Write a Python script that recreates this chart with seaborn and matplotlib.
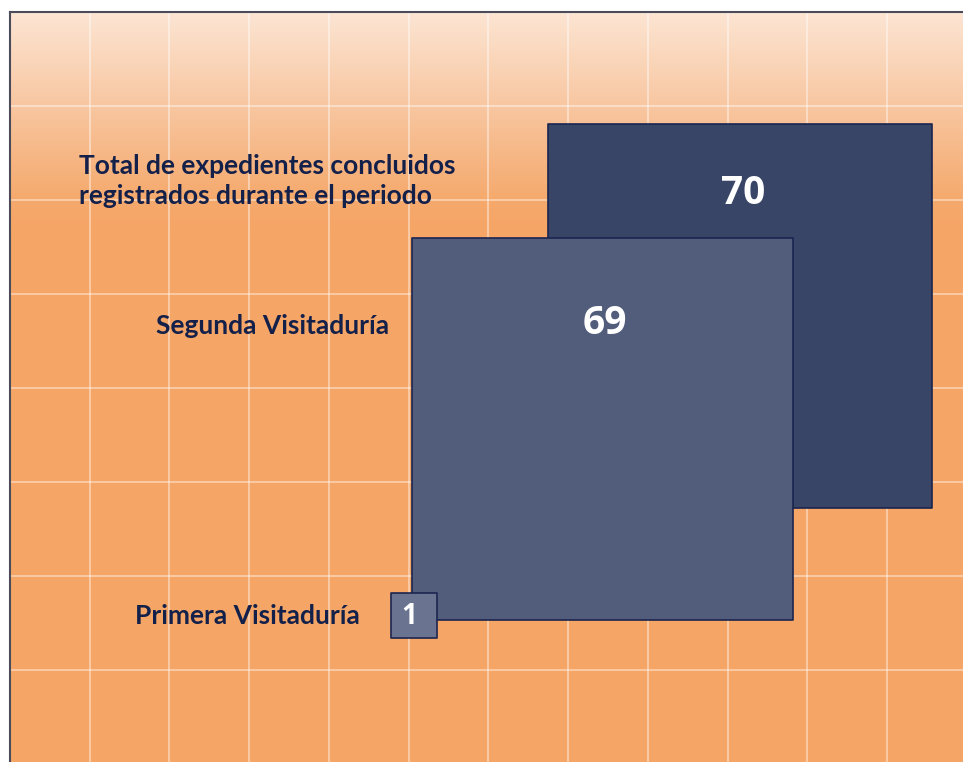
"""
Expedientes concluidos por visitaduría - cuadros proporcionales al valor
"""
import numpy as np
import pandas as pd
import matplotlib.pyplot as plt
import seaborn as sns
from matplotlib.colors import to_rgb

# datos
labels = ["Total de expedientes concluidos\nregistrados durante el periodo",
          "Segunda Visitaduría",
          "Primera Visitaduría"]
keys = ["Total", "Segunda", "Primera"]
values = [70, 69, 1]

# estilo / posiciones (coordenadas en pixeles del lienzo 963x762)
box_colors = ["#384566", "#525D7C", "#6A7490"]
center_x = [740, 602.5, 414]
center_y = [315.5, 429, 615.5]
value_xy = [(743, 194), (605, 323), (409, 617)]
value_fs = [28, 28, 20]
label_xy = [(79, 181), (389, 326), (360, 616)]
label_ha = ["left", "right", "right"]
px_per_sqrt = 384 / np.sqrt(70)      # lado del cuadro en px por raiz del valor

W, H, DPI = 963, 762, 100
sns.set_theme(style="white")
plt.rcParams['font.family'] = ['Lato', 'DejaVu Sans']

fig = plt.figure(figsize=(W / DPI, H / DPI), dpi=DPI)
ax = fig.add_axes([10 / W, 0, (W - 10) / W, (H - 12) / H])
ax.set_xlim(10, W)
ax.set_ylim(H, 12)

# fondo degradado
rows = np.arange(12, H)
stops_y = [12, 107, 200, 235, H]
stops_c = [to_rgb("#FCE5D3"), to_rgb("#F8C6A0"), to_rgb("#F5A96C"),
           to_rgb("#F5A565"), to_rgb("#F5A565")]
grad = np.stack([np.interp(rows, stops_y, [c[i] for c in stops_c]) for i in range(3)], axis=-1)
grad = np.repeat(grad[:, None, :], 2, axis=1)
ax.imshow(grad, extent=(10, W, H, 12), aspect="auto", zorder=0)

# cuadricula
ax.set_xticks(np.linspace(10, 887, 12)[1:])
ax.set_yticks(np.linspace(12, 670, 8)[1:])
ax.grid(True, color="white", alpha=0.45, linewidth=1.3)
ax.set_axisbelow(True)
ax.tick_params(length=0, labelbottom=False, labelleft=False)
for side in ["right", "bottom"]:
    ax.spines[side].set_visible(False)
for side in ["left", "top"]:
    ax.spines[side].set_color("#4B4B5A")
    ax.spines[side].set_linewidth(1.5)

# cuadros: area proporcional al valor
df = pd.DataFrame({"x": center_x, "y": center_y, "valor": values, "grupo": keys})
k = (px_per_sqrt * 72 / DPI) ** 2
sns.scatterplot(data=df, x="x", y="y", hue="grupo", size="valor",
                palette=dict(zip(keys, box_colors)),
                sizes=(k * min(values), k * max(values)),
                size_norm=(min(values), max(values)),
                marker="s", edgecolor="#1B2550", linewidth=1.2,
                legend=False, ax=ax, zorder=3)
ax.set_xlabel("")
ax.set_ylabel("")

for v, (x, y), fs in zip(values, value_xy, value_fs):
    ax.text(x, y, str(v), color="white", fontsize=fs, fontweight="bold",
            family=["Open Sans", "DejaVu Sans"],
            ha="center", va="center", zorder=5)

for lab, (x, y), ha in zip(labels, label_xy, label_ha):
    ax.text(x, y, lab, color="#13204A", fontsize=19, fontweight="bold",
            ha=ha, va="center", linespacing=1.35, zorder=5)

fig.savefig("out.png", dpi=DPI)
